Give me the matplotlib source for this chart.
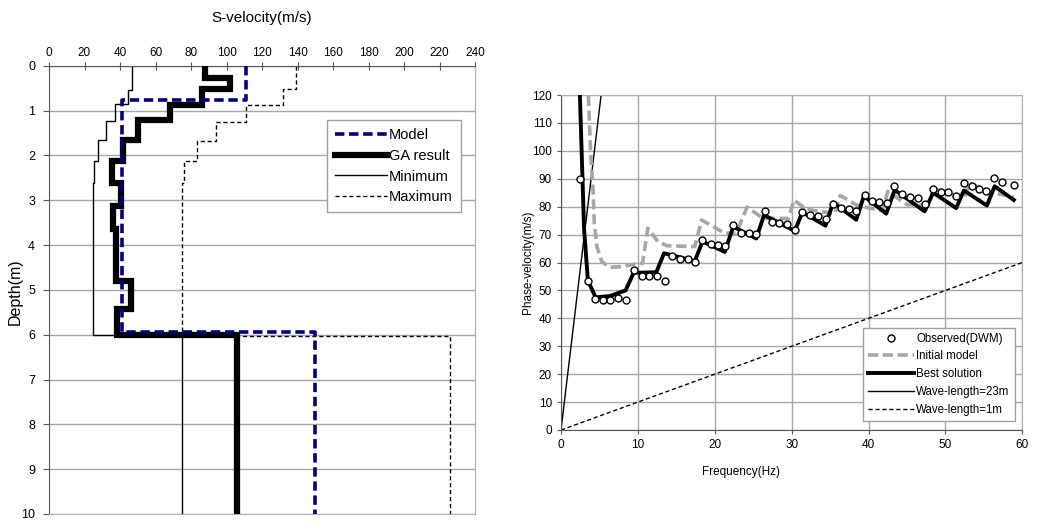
import matplotlib
matplotlib.use("Agg")
import matplotlib.pyplot as plt
import numpy as np

plt.rcParams['font.family'] = ['Liberation Sans', 'DejaVu Sans']

# ---------------- Left panel data (layered profiles) ----------------
model_tops = [0, 0.76, 5.95]
model_vs = [111, 41, 150]

ga_tops = [0, 0.28, 0.51, 0.87, 1.22, 1.65, 2.12, 2.62, 3.13, 3.65, 4.8, 5.43, 6.0]
ga_vs = [88, 102, 86, 68, 50, 41.5, 35.5, 40.8, 36, 37.5, 46, 38.5, 106]

min_tops = [0, 0.54, 0.85, 1.23, 1.66, 2.12, 2.62, 6.0]
min_vs = [46.5, 44.5, 37.2, 32, 27.6, 25.6, 25, 75]

max_tops = [0, 0.53, 0.87, 1.25, 1.67, 2.13, 2.62, 6.02]
max_vs = [139, 132, 111, 94, 83.5, 76, 75, 226]

depth_bottom = 10.0

# ---------------- Right panel data (dispersion curves) ----------------
obs_f = [2.45, 3.5, 4.46, 5.42, 6.4, 7.46, 8.5, 9.46, 10.5, 11.5, 12.5, 13.5,
         14.5, 15.5, 16.5, 17.4, 18.4, 19.5, 20.4, 21.3, 22.4, 23.4, 24.5, 25.4,
         26.5, 27.4, 28.4, 29.4, 30.4, 31.4, 32.4, 33.4, 34.5, 35.4, 36.4, 37.4,
         38.4, 39.5, 40.4, 41.4, 42.4, 43.3, 44.4, 45.4, 46.4, 47.4, 48.4, 49.4,
         50.4, 51.4, 52.4, 53.4, 54.4, 55.3, 56.3, 57.3, 58.9]
obs_v = [89.8, 53.4, 47.0, 46.4, 46.6, 47.2, 46.7, 57.3, 55.2, 55.2, 55.2, 53.2,
         62.3, 61.3, 61.2, 60.3, 68.1, 66.5, 66.3, 65.8, 73.3, 70.7, 70.4, 70.1,
         78.4, 74.4, 74.0, 73.7, 71.5, 78.0, 77.0, 76.7, 75.5, 81.0, 79.7, 79.3,
         78.6, 84.3, 82.1, 81.6, 81.3, 87.5, 84.5, 83.5, 83.1, 81.0, 86.3, 85.4,
         85.1, 83.7, 88.3, 87.3, 86.4, 85.7, 90.2, 88.8, 87.9]

init_f = [3.5, 3.83, 4.17, 4.33, 4.67, 5.3, 6.33, 8.0, 9.67, 10.6, 11.3, 12.6,
          13.8, 17.4, 18.3, 21.3, 22.8, 24.2, 26.3, 29.6, 30.3, 32.0, 35.6, 36.3,
          38.5, 41.8, 42.5, 45.0, 47.8, 48.5, 51.5, 52.5, 53.1, 56.3, 58.9]
init_v = [125, 100.3, 86, 74, 65.7, 60.3, 58.3, 58.5, 59.5, 59.7, 72.3, 67.5,
          66, 65.7, 75.2, 70.5, 70.5, 79.8, 75.8, 75.8, 82.3, 79, 77.5, 84,
          80.5, 78.5, 85.5, 80.7, 80.5, 86.5, 83.8, 83.5, 88.4, 84.9, 83.5]

best_f = [2.4, 3.0, 3.5, 4.5, 6.4, 8.4, 9.45, 12.4, 13.4, 17.4, 18.4, 21.3,
          22.4, 25.4, 26.4, 30.4, 31.4, 34.4, 35.4, 38.4, 39.4, 42.3, 43.4, 47.3,
          48.4, 51.4, 52.4, 55.4, 56.4, 58.9]
best_v = [125, 72, 53.5, 47.5, 48, 50, 56.3, 56.5, 63.3, 60.5, 67.5, 63.8,
          72.8, 68.6, 77, 71.3, 78, 73.2, 81.5, 75.3, 83.8, 77.5, 86, 78.3,
          85, 79.5, 85.8, 80.4, 87.3, 82.4]

wl_long = 23.0   # m
wl_short = 1.0   # m
wl_f = [0, 60]


def profile(tops, vs, bottom):
    xs, ys = [], []
    bounds = list(tops) + [bottom]
    for i, v in enumerate(vs):
        xs += [v, v]
        ys += [bounds[i], bounds[i + 1]]
    return xs, ys


W, H = 1054, 522
fig = plt.figure(figsize=(W / 100, H / 100), dpi=100)

GRID = '#a6a6a6'
DARK = '#555555'

# ---------------- Left panel ----------------
ax1 = fig.add_axes([49 / W, 1 - 514 / H, 426 / W, 448.3 / H])
ax1.set_xlim(0, 240)
ax1.set_ylim(10, 0)
ax1.set_xticks(np.arange(0, 241, 20))
ax1.set_yticks(np.arange(0, 11, 1))
ax1.xaxis.tick_top()
ax1.tick_params(axis='x', direction='inout', length=6, width=0.8, colors=DARK,
                labelcolor='black', labelsize=8.5, pad=2)
ax1.tick_params(axis='y', direction='out', length=4, width=0.8, colors=DARK,
                labelcolor='black', labelsize=9, pad=6)
ax1.grid(axis='y', color=GRID, lw=1)
ax1.set_axisbelow(True)
for s in ['right', 'bottom']:
    ax1.spines[s].set_color('#b0b0b0')
for s in ['left', 'top']:
    ax1.spines[s].set_color(DARK)

x, y = profile(model_tops, model_vs, depth_bottom)
ax1.plot(x, y, color='#000080', lw=2.6, ls=(0, (2.6, 1.3)), label='Model', zorder=4)
x, y = profile(ga_tops, ga_vs, depth_bottom)
ax1.plot(x, y, color='black', lw=4.5, solid_joinstyle='miter', label='GA result', zorder=3)
x, y = profile(min_tops, min_vs, depth_bottom)
ax1.plot(x, y, color='black', lw=1.0, label='Minimum', zorder=2)
x, y = profile(max_tops, max_vs, depth_bottom)
ax1.plot(x, y, color='black', lw=1.0, ls=(0, (3, 2)), label='Maximum', zorder=2)

leg1 = ax1.legend(loc='upper right', bbox_to_anchor=(0.966, 0.878), fontsize=10.5,
                  handlelength=3.6, handletextpad=0.1, borderpad=0.55, labelspacing=0.45,
                  fancybox=False, framealpha=1, edgecolor='#a0a0a0', borderaxespad=0)
leg1.get_frame().set_linewidth(1)

fig.text(262 / W, 1 - 18 / H, 'S-velocity(m/s)', ha='center', va='center', fontsize=11)
fig.text(15 / W, 1 - 292 / H, 'Depth(m)', ha='center', va='center', fontsize=11.5,
         rotation=90)

# ---------------- Right panel ----------------
ax2 = fig.add_axes([561 / W, 1 - 430 / H, 461.3 / W, 335 / H])
ax2.set_xlim(0, 60)
ax2.set_ylim(0, 120)
ax2.set_xticks(np.arange(0, 61, 10))
ax2.set_yticks(np.arange(0, 121, 10))
ax2.tick_params(axis='both', direction='out', length=3, width=0.8, colors=DARK,
                labelcolor='black', labelsize=8.5)
ax2.grid(True, color=GRID, lw=1)
ax2.set_axisbelow(True)
for s in ['right', 'top']:
    ax2.spines[s].set_color('#b0b0b0')
for s in ['left', 'bottom']:
    ax2.spines[s].set_color(DARK)

wf = np.array(wl_f, dtype=float)
ax2.plot(obs_f, obs_v, ls='none', marker='o', ms=5, mfc='white', mec='black',
         mew=1.0, label='Observed(DWM)', zorder=5)
ax2.plot(init_f, init_v, color='#a6a6a6', lw=2.6, ls=(0, (2.8, 1.3)),
         label='Initial model', zorder=3)
ax2.plot(best_f, best_v, color='black', lw=2.8, label='Best solution', zorder=4)
ax2.plot(wf, wl_long * wf, color='black', lw=1.0, label='Wave-length=23m', zorder=2)
ax2.plot(wf, wl_short * wf, color='black', lw=1.0, ls=(0, (3, 2)),
         label='Wave-length=1m', zorder=2)

leg2 = ax2.legend(loc='lower right', bbox_to_anchor=(0.984, 0.027), fontsize=8.3,
                  handlelength=4.0, handletextpad=0.2, borderpad=0.45, labelspacing=0.5,
                  fancybox=False, framealpha=1, edgecolor='#a0a0a0', borderaxespad=0)
leg2.get_frame().set_linewidth(1)

fig.text(741 / W, 1 - 472 / H, 'Frequency(Hz)', ha='center', va='center', fontsize=8.5)
fig.text(528 / W, 1 - 262 / H, 'Phase-velocity(m/s)', ha='center', va='center',
         fontsize=8.5, rotation=90)

fig.savefig('out.png', dpi=100)
